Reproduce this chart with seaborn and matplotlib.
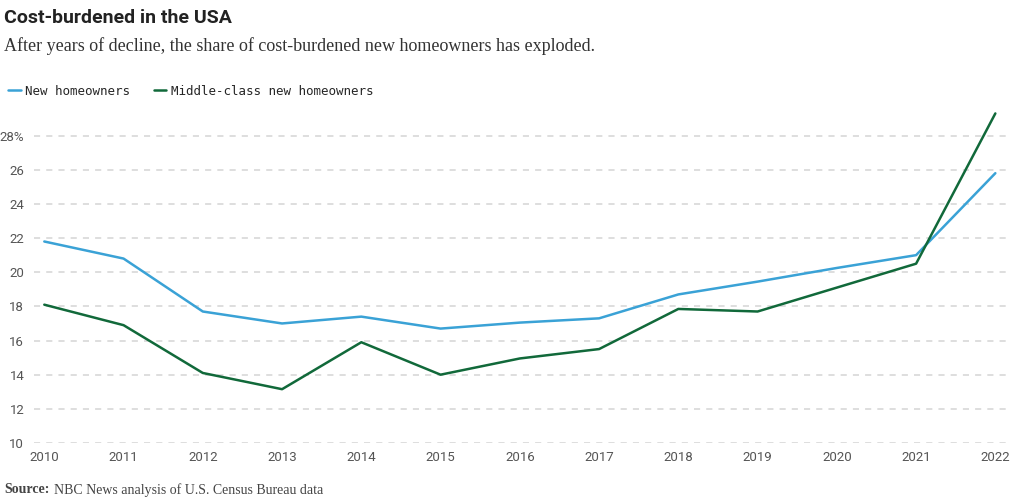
import numpy as np
import pandas as pd
import matplotlib
matplotlib.use("Agg")
import matplotlib.pyplot as plt
import seaborn as sns

years = list(range(2010, 2023))
new_homeowners = [21.8, 20.8, 17.7, 17.0, 17.4, 16.7, 17.05, 17.3, 18.7, 19.45, 20.25, 21.0, 25.8]
middle_class = [18.1, 16.9, 14.1, 13.15, 15.9, 14.0, 14.95, 15.5, 17.85, 17.7, 19.1, 20.5, 29.3]
series_names = ["New homeowners", "Middle-class new homeowners"]
y_ticks = [10, 12, 14, 16, 18, 20, 22, 24, 26, 28]
y_labels = ["10", "12", "14", "16", "18", "20", "22", "24", "26", "28%"]

df = pd.DataFrame({
    "year": years * 2,
    "share": new_homeowners + middle_class,
    "series": [series_names[0]] * len(years) + [series_names[1]] * len(years),
})

sns.set_theme(style="white")
plt.rcParams["font.family"] = ["Roboto", "DejaVu Sans"]

fig = plt.figure(figsize=(10.24, 5.01), dpi=100)
ax = fig.add_axes([0.0332, 0.1158, 0.9512, 0.6646])

palette = {series_names[0]: "#3aa2d6", series_names[1]: "#11693a"}
sns.lineplot(data=df, x="year", y="share", hue="series", palette=palette,
             linewidth=1.8, ax=ax, legend=True)

ax.set_xlim(2009.87, 2022.16)
ax.set_ylim(10, 29.5)
ax.set_yticks(y_ticks)
ax.set_yticklabels(y_labels)
ax.set_xticks(years)
ax.set_xticklabels([str(y) for y in years])
ax.tick_params(axis="both", length=0, labelsize=9.5, colors="#555555")
ax.tick_params(axis="y", pad=7)
ax.tick_params(axis="x", pad=6)
ax.set_xlabel("")
ax.set_ylabel("")
for s in ax.spines.values():
    s.set_visible(False)
for t in y_ticks:
    ax.axhline(t, color="#d4d4d4", lw=1.1, ls=(0, (4, 4)), zorder=0)

handles, labels = ax.get_legend_handles_labels()
ax.legend_.remove()
fig.legend(handles, labels, loc="center left", bbox_to_anchor=(-0.003, 0.818),
           ncol=2, frameon=False, handlelength=1.0, handletextpad=0.35,
           columnspacing=1.9, prop={"family": "DejaVu Sans Mono", "size": 9})

fig.text(0.004, 0.964, "Cost-burdened in the USA", fontsize=14, fontweight="bold",
         family=["Roboto", "DejaVu Sans"], color="#222222", va="center")
fig.text(0.004, 0.908, "After years of decline, the share of cost-burdened new homeowners has exploded.",
         fontsize=13, family=["Liberation Serif", "DejaVu Serif"], color="#333333", va="center")
src = fig.text(0.004, 0.022, "Source:", fontsize=10, fontweight="bold",
               family=["Liberation Serif", "DejaVu Serif"], color="#444444", va="center")
fig.canvas.draw()
bb = src.get_window_extent()
x1 = bb.x1 / fig.bbox.width
fig.text(x1 + 0.004, 0.022, "NBC News analysis of U.S. Census Bureau data", fontsize=10,
         family=["Liberation Serif", "DejaVu Serif"], color="#444444", va="center")

fig.savefig("out.png", dpi=100)
